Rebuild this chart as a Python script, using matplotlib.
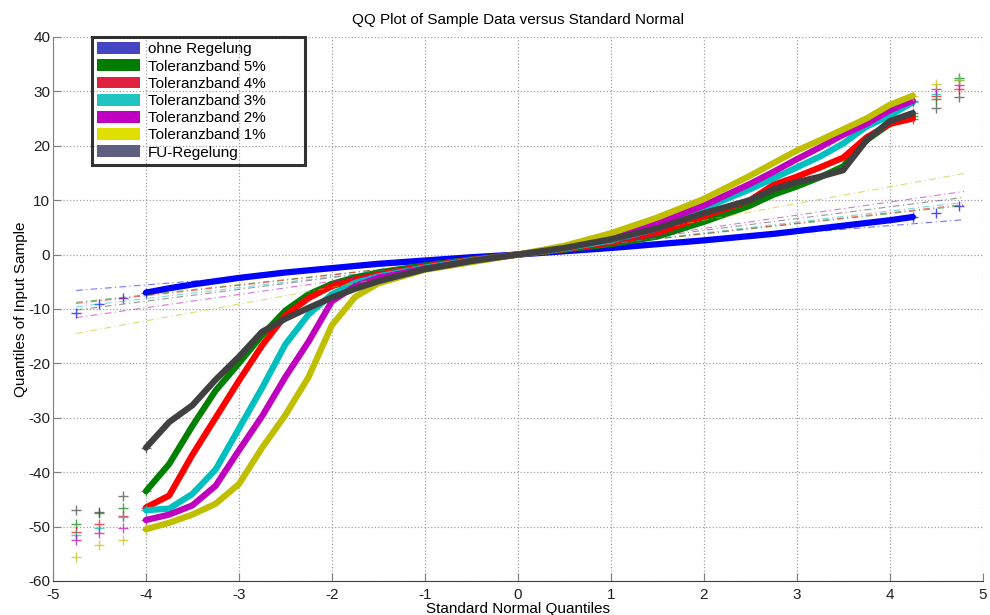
import numpy as np
import matplotlib
matplotlib.use("Agg")
import matplotlib.pyplot as plt
from matplotlib.patches import Patch

plt.rcParams['font.family'] = ['Liberation Sans', 'DejaVu Sans']
plt.rcParams['axes.unicode_minus'] = False

# standard normal quantiles (shared by all series)
qx = np.array([-4.75, -4.5, -4.25, -4.0, -3.75, -3.5, -3.25, -3.0, -2.75, -2.5,
               -2.25, -2.0, -1.75, -1.5, -1.0, -0.5, 0.0, 0.5, 1.0, 1.5,
               2.0, 2.5, 2.75, 3.0, 3.25, 3.5, 3.75, 4.0, 4.25, 4.5, 4.75])

# sample quantiles
y_ohne = [-10.7, -9.0, -8.0, -7.0, -6.2, -5.5, -4.9, -4.3, -3.8, -3.3,
          -2.9, -2.5, -2.1, -1.7, -1.1, -0.5, 0.0, 0.6, 1.2, 1.9,
          2.6, 3.4, 3.8, 4.3, 4.8, 5.3, 5.8, 6.3, 6.9, 7.6, 9.0]
y_tb5 = [-49.5, -47.5, -46.5, -43.5, -38.5, -31.5, -25.0, -20.0, -14.8, -10.3,
         -7.3, -5.4, -4.2, -3.3, -2.0, -0.9, 0.0, 0.9, 1.9, 3.3,
         6.0, 9.0, 11.0, 12.5, 14.2, 16.2, 21.0, 24.0, 25.5, 28.5, 32.4]
y_tb4 = [-51.0, -49.5, -48.0, -46.5, -44.3, -36.8, -30.0, -23.2, -16.7, -11.2,
         -8.0, -5.8, -4.6, -3.7, -2.2, -1.0, 0.0, 1.0, 2.2, 4.0,
         7.0, 10.0, 12.8, 14.3, 16.0, 17.8, 21.5, 24.0, 25.0, 29.2, 30.5]
y_tb3 = [-51.5, -50.2, -48.3, -47.0, -46.7, -44.0, -39.5, -32.0, -24.5, -16.5,
         -11.0, -7.3, -5.2, -4.0, -2.4, -1.1, 0.0, 1.1, 2.6, 4.8,
         8.5, 12.0, 14.0, 16.0, 18.0, 20.4, 23.5, 25.5, 28.0, 29.5, 32.0]
y_tb2 = [-52.5, -51.2, -50.3, -48.8, -47.8, -46.1, -42.5, -36.0, -29.7, -22.5,
         -16.0, -8.6, -5.8, -4.3, -2.6, -1.2, 0.0, 1.3, 3.0, 5.8,
         9.0, 13.0, 15.2, 17.5, 19.7, 22.0, 24.0, 26.5, 28.3, 30.5, 31.1]
y_tb1 = [-55.5, -53.3, -52.5, -50.5, -49.3, -47.8, -45.8, -42.2, -35.5, -29.5,
         -22.5, -13.0, -7.8, -5.3, -2.8, -1.4, 0.0, 1.6, 3.9, 6.8,
         10.2, 14.5, 16.8, 19.1, 21.0, 23.0, 25.0, 27.5, 29.2, 31.4, 32.0]
y_fu = [-47.0, -47.4, -44.3, -35.5, -30.8, -27.7, -23.0, -18.8, -14.2, -11.8,
        -9.8, -7.9, -6.3, -4.9, -2.7, -1.2, 0.0, 1.2, 2.8, 4.8,
        7.6, 10.0, 12.0, 13.3, 14.3, 15.5, 21.0, 24.5, 26.0, 27.0, 28.9]

# reference lines (quartile fit), values at the ends of the data range
ref_x = [-4.75, 4.8]
ref_ohne = [-6.6, 6.4]
ref_tb5 = [-8.8, 9.0]
ref_tb4 = [-9.0, 9.2]
ref_tb3 = [-9.6, 9.6]
ref_tb2 = [-11.6, 11.6]
ref_tb1 = [-14.5, 14.9]
ref_fu = [-10.2, 10.5]

labels = ['ohne Regelung', 'Toleranzband 5%', 'Toleranzband 4%', 'Toleranzband 3%',
          'Toleranzband 2%', 'Toleranzband 1%', 'FU-Regelung']
series = [y_ohne, y_tb5, y_tb4, y_tb3, y_tb2, y_tb1, y_fu]
refs = [ref_ohne, ref_tb5, ref_tb4, ref_tb3, ref_tb2, ref_tb1, ref_fu]
colors = ['#0000ff', '#008000', '#ff0000', '#00bfbf', '#bf00bf', '#bfbf00', '#404040']
legend_colors = ['#4545c4', '#007d00', '#e0203f', '#20c4c0', '#c000c0', '#e0e000', '#5f5f7f']

fig = plt.figure(figsize=(9.9, 6.15), dpi=100)
ax = fig.add_axes([0.0535, 0.0553, 0.939, 0.8847])

for ys, rf, c in zip(series, refs, colors):
    ys = np.array(ys)
    ax.plot(ref_x, rf, linestyle=(0, (6, 3, 1, 3)), color=c, lw=0.8, alpha=0.55)
    body = (qx >= -4.0) & (qx <= 4.25)
    ax.plot(qx[body], ys[body], color=c, lw=4.5, solid_capstyle='round',
            solid_joinstyle='round')
    tail = ~body | (qx == -4.0) | (qx == 4.25)
    ax.plot(qx[tail], ys[tail], '+', color=c, ms=7, mew=1.0, alpha=0.7)

ax.set_xlim(-5, 5)
ax.set_ylim(-60, 40)
ax.set_xticks(np.arange(-5, 6, 1))
ax.set_yticks(np.arange(-60, 41, 10))
ax.grid(True, linestyle=':', color='#a0a0a0', lw=0.9)
ax.set_axisbelow(True)
ax.tick_params(direction='in', length=6, labelsize=11, colors='#202020', pad=2)
ax.tick_params(axis='x', pad=5)
ax.tick_params(axis='both', color='#808080')
ax.spines['top'].set_visible(False)
ax.spines['right'].set_visible(False)
ax.spines['left'].set_color('#808080')
ax.spines['bottom'].set_color('#404040')

ax.set_title('QQ Plot of Sample Data versus Standard Normal', fontsize=11, pad=9)
ax.set_xlabel('Standard Normal Quantiles', fontsize=11, labelpad=0)
ax.set_ylabel('Quantiles of Input Sample', fontsize=11, labelpad=0)

handles = [Patch(facecolor=lc, edgecolor='none') for lc in legend_colors]
leg = ax.legend(handles, labels, loc='upper left', bbox_to_anchor=(0.042, 0.0, 0.229, 1.0),
                mode='expand', fontsize=11, handlelength=2.8, handleheight=0.8,
                labelspacing=0.2, handletextpad=0.5, borderpad=0.35, fancybox=False,
                borderaxespad=0)
leg.get_frame().set_edgecolor('black')
leg.get_frame().set_linewidth(2.2)
leg.get_frame().set_facecolor('none')

fig.savefig('out.png', dpi=100)
